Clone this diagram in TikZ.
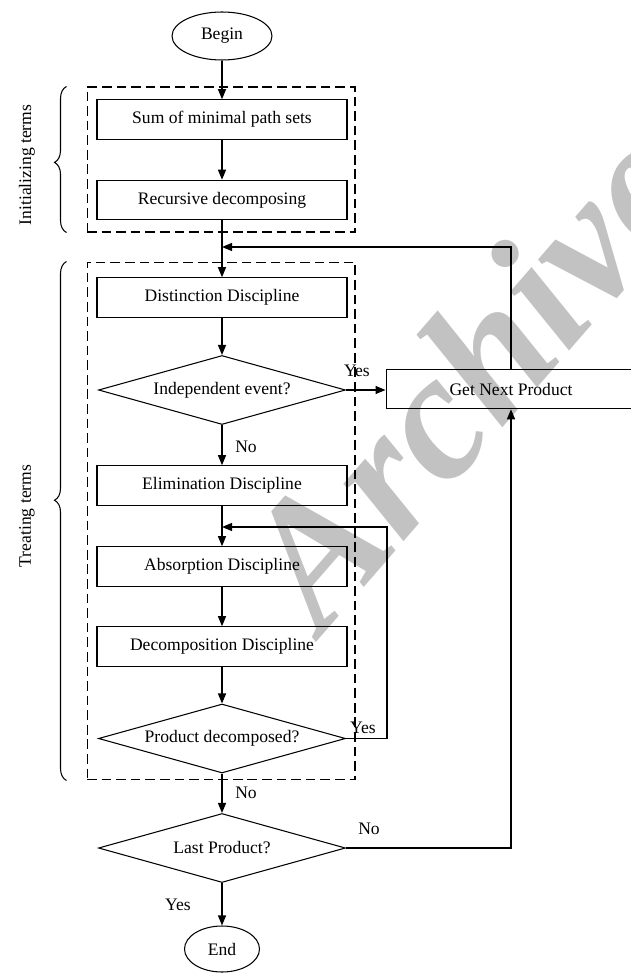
\documentclass[tikz,border=0pt]{standalone}
\usepackage{fontspec}
\setmainfont{Liberation Serif}
\usepackage{tikz}
\usetikzlibrary{shapes.geometric,arrows.meta,decorations.pathreplacing,positioning}

\begin{document}
\begin{tikzpicture}[x=0.02cm, y=-0.02cm, font=\fontsize{10}{12}\selectfont,
  proc/.style={draw, line width=0.6pt, minimum width=5cm, minimum height=0.79cm, inner sep=0pt},
  decision/.style={draw, diamond, aspect=3.6, line width=0.6pt, minimum width=4.94cm, minimum height=1.38cm, inner sep=0pt},
  terminal/.style={draw, ellipse, line width=0.6pt, inner sep=0pt},
  group/.style={draw, dash pattern=on 5.5pt off 2.8pt, line width=0.6pt, inner sep=0pt},
  flow/.style={line width=0.7pt, -{Triangle[length=0.2cm,width=0.16cm]}},
  grpbrace/.style={decorate, decoration={brace, amplitude=0.24cm}, line width=0.6pt},
  lbl/.style={inner sep=0pt}]
  \useasboundingbox (0,0) rectangle (630,973);

  \node[text=black!24, font=\fontsize{103}{103}\selectfont\bfseries\itshape, rotate=49,
        anchor=base west, inner sep=0pt] (mark) at (322,636) {Archive};

  \node[group, minimum width=5.36cm, minimum height=2.9cm] (init) at (221,159.5) {};
  \node[group, minimum width=5.36cm, minimum height=10.36cm] (treat) at (221,521) {};

  \node[terminal, minimum width=2cm, minimum height=0.96cm] (begin) at (222,36) {Begin};
  \node[proc] (sum) at (222,119.5) {Sum of minimal path sets};
  \node[proc] (rec) at (222,200) {Recursive decomposing};
  \node[proc] (dist) at (222,297.5) {Distinction Discipline};
  \node[decision] (indep) at (222,390) {Independent event?};
  \node[proc] (elim) at (222,485.5) {Elimination Discipline};
  \node[proc] (absorb) at (222,566.5) {Absorption Discipline};
  \node[proc] (decomp) at (222,646.5) {Decomposition Discipline};
  \node[decision] (prod) at (222,738.5) {Product decomposed?};
  \node[decision] (last) at (222,848) {Last Product?};
  \node[terminal, minimum width=1.5cm, minimum height=0.92cm] (end) at (222,949) {End};
  \node[proc] (next) at (511,389) {Get Next Product};

  \coordinate (top) at (222,247);
  \coordinate (back) at (222,527);
  \coordinate (backR) at (387,527);

  \draw[grpbrace, decoration={aspect=0.48}] ([xshift=-0.4cm]init.south west) -- ([xshift=-0.4cm]init.north west);
  \draw[grpbrace, decoration={aspect=0.54}] ([xshift=-0.4cm]treat.south west) -- ([xshift=-0.4cm]treat.north west);
  \node[rotate=90] (initlbl) at (27,165) {Initializing terms};
  \node[rotate=90] (treatlbl) at (27,516) {Treating terms};

  \draw[flow] (begin) -- (sum);
  \draw[flow] (sum) -- (rec);
  \draw[flow] (rec) -- (dist);
  \draw[flow] (next.north) |- (top);
  \draw[flow] (dist) -- (indep);
  \draw[flow] (indep.east) -- (indep.east -| next.west);
  \draw[flow] (indep) -- (elim);
  \draw[flow] (elim) -- (absorb);
  \draw[flow] (absorb) -- (decomp);
  \draw[flow] (decomp) -- (prod);
  \draw[flow] (prod.east) -| (backR) -- (back);
  \draw[flow] (prod) -- (last);
  \draw[flow] (last.east) -| (next.south);
  \draw[flow] (last) -- (end);

  \node[lbl] (yes1) at (357,371) {Yes};
  \node[lbl] (no1) at (246,447) {No};
  \node[lbl] (yes2) at (363,728) {Yes};
  \node[lbl] (no2) at (246,793) {No};
  \node[lbl] (no3) at (369,829) {No};
  \node[lbl] (yes3) at (178,905) {Yes};
\end{tikzpicture}
\end{document}
